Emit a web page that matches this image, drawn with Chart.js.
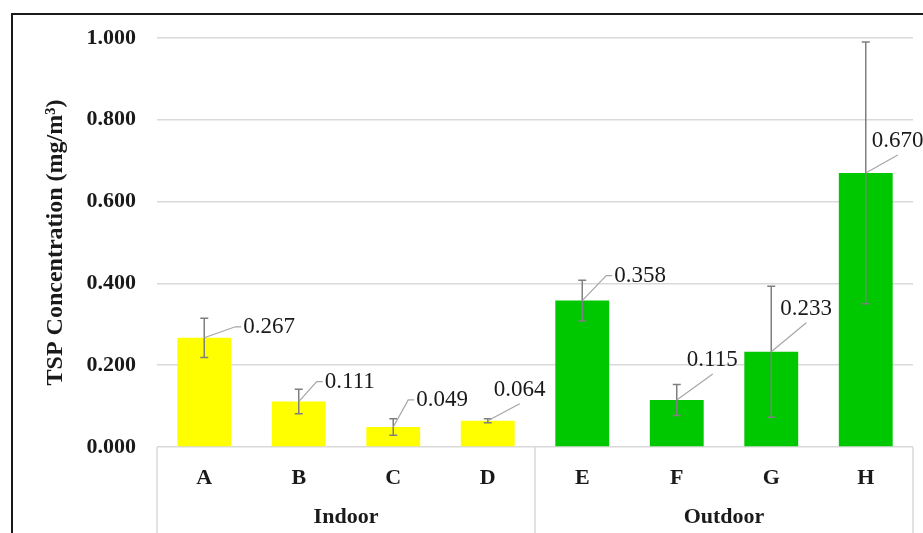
<!DOCTYPE html>
<html>
<head>
<meta charset="utf-8">
<script src="https://cdn.jsdelivr.net/npm/chart.js@4.4.1/dist/chart.umd.min.js"></script>
<style>
  body { margin: 0; background: #fff; overflow: hidden; }
  #wrap { position: relative; width: 923px; height: 533px; }
  #frame { position: absolute; left: 11px; top: 13px; width: 940px; height: 560px; border: 2px solid #1a1a1a; pointer-events: none; }
</style>
</head>
<body>
<div id="wrap">
  <canvas id="tspChart" width="923" height="533"></canvas>
  <div id="frame"></div>
</div>
<script>
// data
const categories = ['A', 'B', 'C', 'D', 'E', 'F', 'G', 'H'];
const groupNames = ['Indoor', 'Outdoor'];
const groupSizes = [4, 4];
const tspMean = [0.267, 0.111, 0.049, 0.064, 0.358, 0.115, 0.233, 0.670];
const tspError = [0.048, 0.030, 0.020, 0.005, 0.050, 0.038, 0.160, 0.320];
const yTicks = [0, 0.2, 0.4, 0.6, 0.8, 1.0];

const YELLOW = '#ffff00';
const GREEN = '#00c800';
const serif = '"Liberation Serif", "Times New Roman", serif';

const barColors = [];
groupSizes.forEach((n, g) => {
    for (let i = 0; i < n; i++) barColors.push(g === 0 ? YELLOW : GREEN);
});

// label placement: [dx, dy, leader style] from bar top centre
const labelPlaces = [
    [39, -11, 'side'], [26, -20, 'side'], [23, -27, 'side'], [6, -31, 'up'],
    [32, -25, 'side'], [10, -40, 'up'], [9, -43, 'up'], [6, -32, 'up']
];

const errorBars = {
    id: 'errorBars',
    afterDatasetsDraw(chart) {
        const ctx = chart.ctx;
        const y = chart.scales.y;
        const meta = chart.getDatasetMeta(0);
        ctx.save();
        ctx.strokeStyle = '#7f7f7f';
        ctx.lineWidth = 1.5;
        meta.data.forEach((bar, i) => {
            const hi = y.getPixelForValue(tspMean[i] + tspError[i]);
            const lo = y.getPixelForValue(tspMean[i] - tspError[i]);
            ctx.beginPath();
            ctx.moveTo(bar.x, hi); ctx.lineTo(bar.x, lo);
            ctx.moveTo(bar.x - 4, hi); ctx.lineTo(bar.x + 4, hi);
            ctx.moveTo(bar.x - 4, lo); ctx.lineTo(bar.x + 4, lo);
            ctx.stroke();
        });

        // value labels with leader lines
        ctx.font = '23px ' + serif;
        ctx.textAlign = 'left';
        ctx.textBaseline = 'middle';
        meta.data.forEach((bar, i) => {
            const [dx, dy, style] = labelPlaces[i];
            const lx = bar.x + dx, ly = bar.y + dy;
            ctx.strokeStyle = '#a6a6a6';
            ctx.lineWidth = 1.2;
            ctx.beginPath();
            ctx.moveTo(bar.x, bar.y);
            if (style === 'side') {
                ctx.lineTo(lx - 8, ly);
                ctx.lineTo(lx - 2, ly);
            } else {
                ctx.lineTo(lx + 26, ly + 14);
            }
            ctx.stroke();
            ctx.fillStyle = '#1a1a1a';
            ctx.fillText(tspMean[i].toFixed(3), lx, ly);
        });
        ctx.restore();
    }
};

const groupAxis = {
    id: 'groupAxis',
    afterDraw(chart) {
        const ctx = chart.ctx;
        const area = chart.chartArea;
        const meta = chart.getDatasetMeta(0);
        const edges = [area.left];
        let idx = 0;
        groupSizes.forEach((n, g) => {
            idx += n;
            if (g < groupSizes.length - 1) edges.push((meta.data[idx - 1].x + meta.data[idx].x) / 2);
        });
        edges.push(area.right);

        ctx.save();
        ctx.strokeStyle = '#d9d9d9';
        ctx.lineWidth = 1.5;
        edges.forEach(x => {
            ctx.beginPath();
            ctx.moveTo(x, area.bottom);
            ctx.lineTo(x, chart.height);
            ctx.stroke();
        });
        ctx.fillStyle = '#1a1a1a';
        ctx.font = 'bold 22px ' + serif;
        ctx.textAlign = 'center';
        ctx.textBaseline = 'middle';
        groupNames.forEach((name, g) => {
            ctx.fillText(name, (edges[g] + edges[g + 1]) / 2, area.bottom + 70);
        });
        ctx.restore();
    }
};

new Chart(document.getElementById('tspChart'), {
    type: 'bar',
    data: {
        labels: categories,
        datasets: [{
            label: 'TSP Concentration',
            data: tspMean,
            backgroundColor: barColors,
            borderWidth: 0,
            categoryPercentage: 1,
            barPercentage: 0.57
        }]
    },
    options: {
        responsive: false,
        animation: false,
        layout: { padding: { top: 38, right: 10, left: 0, bottom: 0 } },
        plugins: {
            legend: { display: false },
            tooltip: { enabled: false }
        },
        scales: {
            x: {
                grid: { display: false },
                border: { display: false },
                ticks: {
                    color: '#1a1a1a',
                    font: { family: serif, size: 22, weight: 'bold' },
                    padding: 10
                },
                afterFit: s => { s.height = 86; }
            },
            y: {
                min: 0,
                max: 1,
                afterBuildTicks: s => { s.ticks = yTicks.map(v => ({ value: v })); },
                grid: { color: '#d9d9d9', lineWidth: 1.5, drawTicks: false },
                border: { display: false },
                ticks: {
                    color: '#1a1a1a',
                    font: { family: serif, size: 22, weight: 'bold' },
                    padding: 21,
                    callback: v => v.toFixed(3)
                },
                title: {
                    display: true,
                    text: 'TSP Concentration (mg/m³)',
                    color: '#1a1a1a',
                    font: { family: serif, size: 24, weight: 'bold' },
                    padding: 41
                },
                afterFit: s => { s.width = 157; }
            }
        }
    },
    plugins: [errorBars, groupAxis]
});
</script>
</body>
</html>
